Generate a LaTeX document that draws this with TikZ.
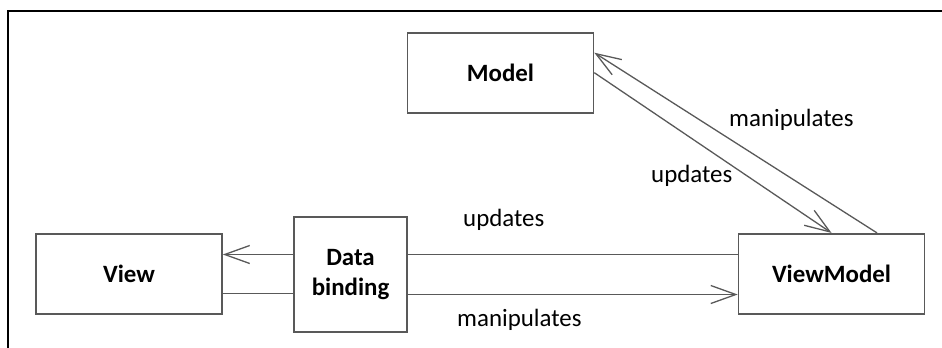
\documentclass[tikz,border=0pt]{standalone}
\usepackage{fontspec}
\setmainfont{Carlito}
\usetikzlibrary{arrows.meta}
\definecolor{edge}{HTML}{595959}
\begin{document}
\begin{tikzpicture}[x=1bp,y=-1bp,
  box/.style={draw=edge,line width=1.6bp,rectangle,inner sep=0pt,
    font=\fontsize{25}{30}\selectfont\bfseries,align=center},
  link/.style={draw=edge,line width=1.3bp},
  tip/.style={link,-{Straight Barb[length=25bp,width=18bp,line width=1.3bp]}},
  lbl/.style={font=\fontsize{25}{30}\selectfont,inner sep=0pt,anchor=base west}]
\useasboundingbox (0,0) rectangle (942,347);
% frame
\draw[line width=2bp,line cap=rect] (8,347) -- (8,11) -- (942,11);
% boxes
\node[box,minimum width=186bp,minimum height=80bp] (model) at (500.5,72.7) {Model};
\node[box,minimum width=186bp,minimum height=80bp] (view) at (129,273.7) {View};
\node[box,minimum width=113.5bp,minimum height=115bp] (db) at (350.5,274.5) {Data\\binding};
\node[box,minimum width=186bp,minimum height=80bp] (vm) at (831.5,273.7) {ViewModel};
% data binding links
\draw[tip] ([yshift=20bp]db.west) -- ([yshift=20bp]db.west -| view.east);
\draw[link] ([yshift=20bp]db.east) -- ([yshift=20bp]db.east -| vm.west);
\draw[link] ([yshift=-20bp]view.east) -- ([yshift=-20bp]view.east -| db.west);
\draw[tip] ([yshift=-20bp]db.east) -- ([yshift=-20bp]db.east -| vm.west);
% model links
\draw[tip] (model.east) -- (vm.north);
\draw[tip] ([xshift=45.5bp]vm.north) -- ([yshift=20bp]model.east);
% labels
\node[lbl] (l1) at (463,226) {updates};
\node[lbl] (l2) at (457,326) {manipulates};
\node[lbl] (l3) at (729,126) {manipulates};
\node[lbl] (l4) at (651,182.7) {updates};
\end{tikzpicture}
\end{document}
